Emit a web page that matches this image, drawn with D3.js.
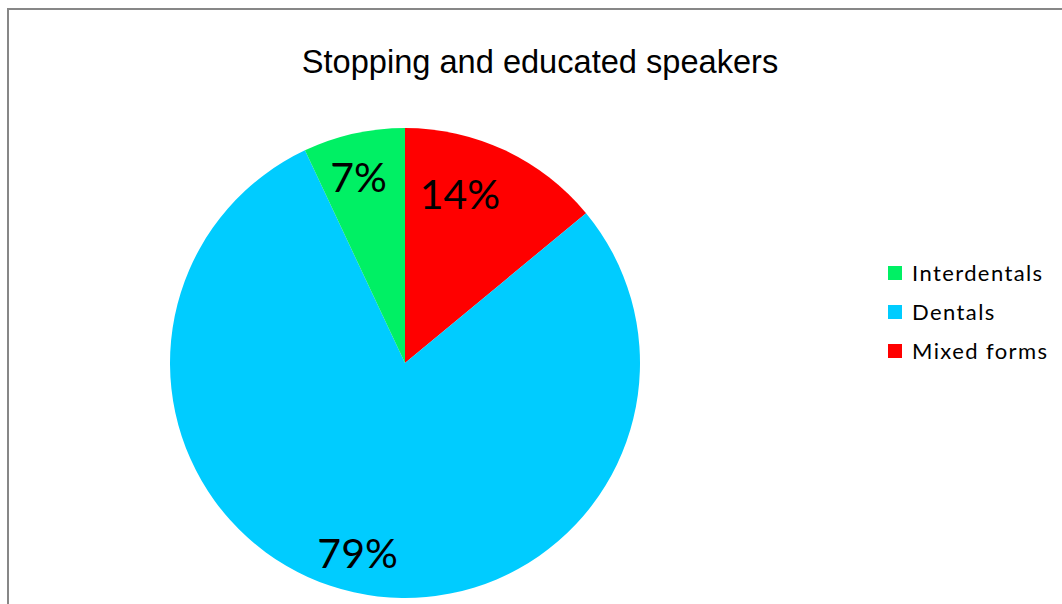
<!DOCTYPE html>
<html>
<head>
<meta charset="utf-8">
<script src="https://cdn.jsdelivr.net/npm/d3@7"></script>
<style>
  html, body { margin: 0; padding: 0; background: #fff; }
  svg { display: block; }
</style>
</head>
<body>
<svg id="chart" width="1062" height="604"></svg>
<script>
// Share of forms among educated speakers (drawn clockwise from 12 o'clock)
const categories = ["Mixed forms", "Dentals", "Interdentals"];
const shares = [14, 79, 7];
const legendOrder = ["Interdentals", "Dentals", "Mixed forms"];
const title = "Stopping and educated speakers";

const colorOf = d3.scaleOrdinal()
  .domain(["Interdentals", "Dentals", "Mixed forms"])
  .range(["#00F064", "#00CCFF", "#FF0000"]);

const svg = d3.select("#chart");
const W = 1062, H = 604;

// chart frame (extends past the right and bottom edges)
svg.append("rect")
  .attr("x", 8).attr("y", 9)
  .attr("width", W + 20).attr("height", H + 20)
  .attr("fill", "#fff")
  .attr("stroke", "#878787").attr("stroke-width", 2);

svg.append("text")
  .attr("x", 540).attr("y", 73)
  .attr("text-anchor", "middle")
  .attr("font-family", "Liberation Sans, Arial, sans-serif")
  .attr("font-size", 32.6)
  .attr("fill", "#000")
  .text(title);

const cx = 405, cy = 363, R = 235;
const data = categories.map((c, i) => ({ name: c, value: shares[i] }));

const pie = d3.pie().value(d => d.value).sort(null);
const arc = d3.arc().innerRadius(0).outerRadius(R);
const labelArc = d3.arc().innerRadius(190 * 2 - R).outerRadius(R); // centroid at r=190

const g = svg.append("g").attr("transform", `translate(${cx},${cy})`);
const arcs = pie(data);

g.selectAll("path.slice").data(arcs).join("path")
  .attr("class", "slice")
  .attr("d", arc)
  .attr("fill", d => colorOf(d.data.name));

// percentage labels near the outer edge of each slice
const nudge = { "Mixed forms": [-26, 4], "Dentals": [-6, 5], "Interdentals": [-5, 0] };
g.selectAll("text.pct").data(arcs).join("text")
  .attr("class", "pct")
  .attr("transform", d => {
    const [x, y] = labelArc.centroid(d);
    const [nx, ny] = nudge[d.data.name];
    return `translate(${x + nx},${y + ny})`;
  })
  .attr("text-anchor", "middle")
  .attr("dy", "0.35em")
  .attr("font-family", "Lato, Carlito, Calibri, sans-serif")
  .attr("font-size", 41)
  .attr("fill", "#000")
  .text(d => d.data.value + "%");

// legend
const legend = svg.append("g").attr("transform", "translate(888,273)");
const rows = legend.selectAll("g").data(legendOrder).join("g")
  .attr("transform", (d, i) => `translate(0,${i * 39})`);
rows.append("rect")
  .attr("x", 0).attr("y", -7)
  .attr("width", 14).attr("height", 14)
  .attr("fill", d => colorOf(d));
rows.append("text")
  .attr("x", 24).attr("y", 0)
  .attr("dy", "0.35em")
  .attr("font-family", "Lato, Carlito, Calibri, sans-serif")
  .attr("font-size", 22)
  .attr("letter-spacing", 1.4)
  .attr("fill", "#000")
  .text(d => d);
</script>
</body>
</html>
